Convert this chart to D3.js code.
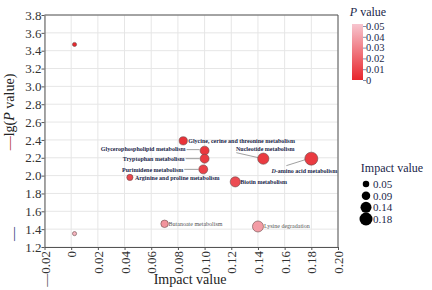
<!DOCTYPE html>
<html><head><meta charset="utf-8">
<script src="https://cdn.jsdelivr.net/npm/d3@7"></script>
<style>body{margin:0;background:#fff}svg{display:block}</style>
</head><body><svg id="c" width="432" height="290"></svg>
<script>
const pathways = ["", "", "Arginine and proline metabolism", "Glycine, cerine and threonine metabolism",
  "Glycerophospholipid metabolism", "Tryptophan metabolism", "Purimidene metabolism",
  "Nucleotide metabolism", "D-amino acid metabolism", "Biotin metabolism",
  "Butanoate metabolism", "Lysine degradation"];
const impact = [0.0025, 0.0025, 0.044, 0.084, 0.1, 0.1, 0.099, 0.144, 0.18, 0.123, 0.07, 0.14];
const negLogP = [3.47, 1.35, 1.98, 2.39, 2.28, 2.19, 2.07, 2.19, 2.19, 1.93, 1.46, 1.43];
const xTicks = [-0.02, 0, 0.02, 0.04, 0.06, 0.08, 0.10, 0.12, 0.14, 0.16, 0.18, 0.20];
const yTicks = [1.2, 1.4, 1.6, 1.8, 2.0, 2.2, 2.4, 2.6, 2.8, 3.0, 3.2, 3.4, 3.6, 3.8];
const pLegendTicks = [0.05, 0.04, 0.03, 0.02, 0.01, 0];
const sizeLegendValues = [0.05, 0.09, 0.14, 0.18];

// label layout (pixel offsets relative to point, style)
const labelLayout = {
  "Arginine and proline metabolism": {dx: 5, dy: 2.5, anchor: "start", strong: true},
  "Glycine, cerine and threonine metabolism": {dx: 5, dy: 2, anchor: "start", strong: true},
  "Glycerophospholipid metabolism": {dx: -19, dy: 0, anchor: "end", strong: true, line: [-18, -1, -5, -1]},
  "Tryptophan metabolism": {dx: -20, dy: 2, anchor: "end", strong: true, line: [-19, 0, -5, 0]},
  "Purimidene metabolism": {dx: -20, dy: 3, anchor: "end", strong: true, line: [-19, 0, -5, 0]},
  "Nucleotide metabolism": {dx: 2, dy: -8, anchor: "middle", strong: true, line: [-27, -6, -5, -1]},
  "D-amino acid metabolism": {dx: -7, dy: 14, anchor: "middle", strong: true, line: [-25, 7, -6, 1]},
  "Biotin metabolism": {dx: 5, dy: 2, anchor: "start", strong: true},
  "Butanoate metabolism": {dx: 4, dy: 2, anchor: "start", strong: false},
  "Lysine degradation": {dx: 6, dy: 2, anchor: "start", strong: false}
};

const svg = d3.select("#c");
const serif = "'Liberation Serif', 'Times New Roman', serif";
const L = 44.5, R = 338, T = 15, B = 247;
const x = d3.scaleLinear().domain([-0.02, 0.20]).range([L, R]);
const y = d3.scaleLinear().domain([1.2, 3.8]).range([B, T]);
const col = d3.scaleLinear().domain([0, 0.05]).range(["#e8262c", "#f7c5cf"]);
const rad = d3.scaleLinear().domain([0, 0.18]).range([2, 6.5]);

// grid
svg.append("g").selectAll("line").data(xTicks).join("line")
  .attr("x1", d => x(d)).attr("x2", d => x(d)).attr("y1", T).attr("y2", B)
  .attr("stroke", "#e6e6e6").attr("stroke-width", 1);
svg.append("g").selectAll("line").data(yTicks).join("line")
  .attr("y1", d => y(d)).attr("y2", d => y(d)).attr("x1", L).attr("x2", R)
  .attr("stroke", "#e6e6e6").attr("stroke-width", 1);

// axes
const fmtX = d => Math.abs(d) < 1e-9 ? "0" : (d < 0 ? "—" + d3.format(".2f")(-d) : d3.format(".2f")(d));
const yAxis = svg.append("g").attr("transform", `translate(${L},0)`)
  .call(d3.axisLeft(y).tickValues(yTicks).tickFormat(d3.format(".1f")).tickSize(3).tickSizeOuter(0));
yAxis.select(".domain").attr("stroke", "#555");
yAxis.selectAll(".tick line").attr("stroke", "#555");
yAxis.selectAll("text").attr("font-family", serif).attr("font-size", 13).attr("fill", "#333").attr("x", -3);

const xAxis = svg.append("g").attr("transform", `translate(0,${B})`)
  .call(d3.axisBottom(x).tickValues(xTicks).tickFormat(fmtX).tickSize(3).tickSizeOuter(0));
xAxis.select(".domain").attr("stroke", "#555");
xAxis.selectAll(".tick line").attr("stroke", "#555");
xAxis.selectAll("text").attr("font-family", serif).attr("font-size", 13).attr("fill", "#333")
  .attr("transform", "rotate(-90)").attr("text-anchor", "end")
  .attr("x", -4).attr("y", 0).attr("dy", "0.35em");

// top & right border
svg.append("line").attr("x1", L).attr("x2", R).attr("y1", T).attr("y2", T).attr("stroke", "#555");
svg.append("line").attr("x1", R).attr("x2", R).attr("y1", T).attr("y2", B).attr("stroke", "#555");

// axis titles
svg.append("text").attr("x", 190).attr("y", 284).attr("text-anchor", "middle")
  .attr("font-family", serif).attr("font-size", 14).attr("fill", "#222").text("Impact value");
const yt = svg.append("text").attr("transform", "translate(14,112) rotate(-90)").attr("text-anchor", "middle")
  .attr("font-family", serif).attr("font-size", 14).attr("fill", "#222");
yt.append("tspan").attr("fill", "#b03030").text("—");
yt.append("tspan").text("lg(");
yt.append("tspan").attr("font-style", "italic").text("P");
yt.append("tspan").text(" value)");
svg.append("text").attr("transform", "translate(18,234) rotate(-90)").attr("text-anchor", "middle")
  .attr("font-family", serif).attr("font-size", 14).attr("fill", "#2a3a7a").text("—");

// data
const data = pathways.map((p, i) => ({name: p, impact: impact[i], nlp: negLogP[i], p: Math.pow(10, -negLogP[i])}));

// leader lines
const lab = svg.append("g");
data.forEach(d => {
  const lo = labelLayout[d.name];
  if (!lo) return;
  const cx = x(d.impact), cy = y(d.nlp);
  if (lo.line) {
    lab.append("line").attr("x1", cx + lo.line[0]).attr("y1", cy + lo.line[1])
      .attr("x2", cx + lo.line[2]).attr("y2", cy + lo.line[3])
      .attr("stroke", "#777").attr("stroke-width", 0.7);
  }
});

svg.append("g").selectAll("circle").data(data).join("circle")
  .attr("cx", d => x(d.impact)).attr("cy", d => y(d.nlp)).attr("r", d => rad(d.impact))
  .attr("fill", d => col(d.p)).attr("stroke", "#6a4a4a").attr("stroke-width", 0.6);

data.forEach(d => {
  const lo = labelLayout[d.name];
  if (!lo) return;
  const cx = x(d.impact), cy = y(d.nlp);
  const t = lab.append("text").attr("x", cx + lo.dx).attr("y", cy + lo.dy)
    .attr("text-anchor", lo.anchor).attr("font-family", serif).attr("font-size", 6)
    .attr("font-weight", lo.strong ? "bold" : "normal").attr("fill", lo.strong ? "#1a1f4a" : "#555");
  if (d.name.startsWith("D-")) {
    t.append("tspan").attr("font-style", "italic").text("D");
    t.append("tspan").text(d.name.slice(1));
  } else t.text(d.name);
});

// P value legend
const defs = svg.append("defs");
const grad = defs.append("linearGradient").attr("id", "pg").attr("x1", 0).attr("x2", 0).attr("y1", 0).attr("y2", 1);
grad.append("stop").attr("offset", "0%").attr("stop-color", col(0.05));
grad.append("stop").attr("offset", "100%").attr("stop-color", col(0));
const pl = d3.scaleLinear().domain([0.05, 0]).range([26, 80]);
svg.append("rect").attr("x", 352).attr("y", 24).attr("width", 11).attr("height", 56).attr("fill", "url(#pg)");
const pt = svg.append("text").attr("x", 368).attr("y", 16).attr("text-anchor", "middle")
  .attr("font-family", serif).attr("font-size", 12).attr("fill", "#1a1f4a");
pt.append("tspan").attr("font-style", "italic").text("P");
pt.append("tspan").text(" value");
const plg = svg.append("g").attr("transform", "translate(363,0)")
  .call(d3.axisRight(pl).tickValues(pLegendTicks).tickFormat(d => d === 0 ? "0" : d3.format(".2f")(d)).tickSize(3).tickSizeOuter(0));
plg.select(".domain").remove();
plg.selectAll(".tick line").attr("stroke", "#8090b0");
plg.selectAll("text").attr("font-family", serif).attr("font-size", 10.5).attr("fill", "#1a1f4a").attr("x", 3);

// size legend
svg.append("text").attr("x", 392).attr("y", 172).attr("text-anchor", "middle")
  .attr("font-family", serif).attr("font-size", 12).attr("fill", "#1a1f4a").text("Impact value");
const sy = d3.scalePoint().domain(sizeLegendValues).range([184, 219]);
const sl = svg.append("g");
sl.selectAll("circle").data(sizeLegendValues).join("circle")
  .attr("cx", 366).attr("cy", d => sy(d)).attr("r", d => rad(d)).attr("fill", "#000");
sl.selectAll("text").data(sizeLegendValues).join("text")
  .attr("x", 373).attr("y", d => sy(d)).attr("dy", "0.35em")
  .attr("font-family", serif).attr("font-size", 11).attr("fill", "#1a1f4a").text(d => d3.format(".2f")(d));
</script></body></html>
